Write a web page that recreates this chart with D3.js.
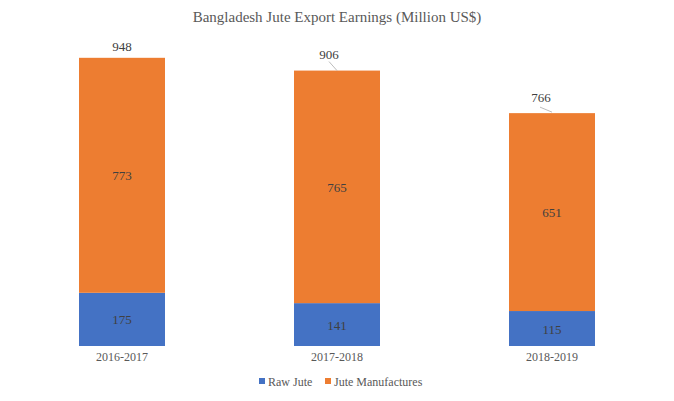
<!DOCTYPE html>
<html><head><meta charset="utf-8">
<script src="https://cdn.jsdelivr.net/npm/d3@7"></script>
<style>body{margin:0;background:#fff}svg{display:block}text{font-family:"Liberation Serif","DejaVu Serif",serif}</style>
</head><body><div id="chart"></div>
<script>
const categories = ["2016-2017", "2017-2018", "2018-2019"];
const rawJute = [175, 141, 115];
const juteManufactures = [773, 765, 651];
const totals = [948, 906, 766];
const seriesNames = ["Raw Jute", "Jute Manufactures"];
const colors = ["#4472C4", "#ED7D31"];

const W = 674, H = 401;
const svg = d3.select("#chart").append("svg").attr("width", W).attr("height", H);
const x = d3.scaleBand().domain(categories).range([14.5, 659.5]).paddingInner(0.6).paddingOuter(0.3);
const y = d3.scaleLinear().domain([0, 1000]).range([346, 42]);

const rows = categories.map((c, i) => ({cat: c, "Raw Jute": rawJute[i], "Jute Manufactures": juteManufactures[i], total: totals[i]}));
const stack = d3.stack().keys(seriesNames)(rows);

svg.append("text").attr("x", 337).attr("y", 22).attr("text-anchor", "middle")
  .attr("font-size", 15).attr("fill", "#595959").text("Bangladesh Jute Export Earnings (Million US$)");

const g = svg.append("g");
stack.forEach((s, si) => {
  g.selectAll(null).data(s).enter().append("rect")
    .attr("x", d => x(d.data.cat)).attr("width", x.bandwidth())
    .attr("y", d => y(d[1])).attr("height", d => y(d[0]) - y(d[1]))
    .attr("fill", colors[si]);
  g.selectAll(null).data(s).enter().append("text")
    .attr("x", d => x(d.data.cat) + x.bandwidth() / 2)
    .attr("y", d => (y(d[0]) + y(d[1])) / 2 + 5)
    .attr("text-anchor", "middle").attr("font-size", 13).attr("fill", "#404040")
    .text(d => d[1] - d[0]);
});

const xAxis = svg.append("g").attr("transform", "translate(0,346)")
  .call(d3.axisBottom(x).tickSize(0).tickPadding(6));
xAxis.select(".domain").remove();
xAxis.selectAll("text").attr("font-size", 12).attr("fill", "#595959").attr("font-family", "Liberation Serif");

// total labels with leader lines
const offs = [[0, -7, null], [-8, -12, [-8, -9, 0, 0]], [-11, -11, [-12, -6, 0, -1]]];
rows.forEach((r, i) => {
  const cx = x(r.cat) + x.bandwidth() / 2, ty = y(r.total);
  const o = offs[i];
  svg.append("text").attr("x", cx + o[0]).attr("y", ty + o[1])
    .attr("text-anchor", "middle").attr("font-size", 13).attr("fill", "#404040").text(r.total);
  if (o[2]) {
    svg.append("line").attr("x1", cx + o[2][0]).attr("y1", ty + o[2][1])
      .attr("x2", cx + o[2][2]).attr("y2", ty + o[2][3]).attr("stroke", "#a6a6a6").attr("stroke-width", 0.75);
  }
});

// legend
const lg = svg.append("g").attr("transform", "translate(259,378)");
const legX = [0, 66];
seriesNames.forEach((n, i) => {
  lg.append("rect").attr("x", legX[i]).attr("y", 0).attr("width", 6).attr("height", 6).attr("fill", colors[i]);
  lg.append("text").attr("x", legX[i] + 9).attr("y", 7.5).attr("font-size", 12).attr("fill", "#595959").text(n);
});
</script></body></html>
